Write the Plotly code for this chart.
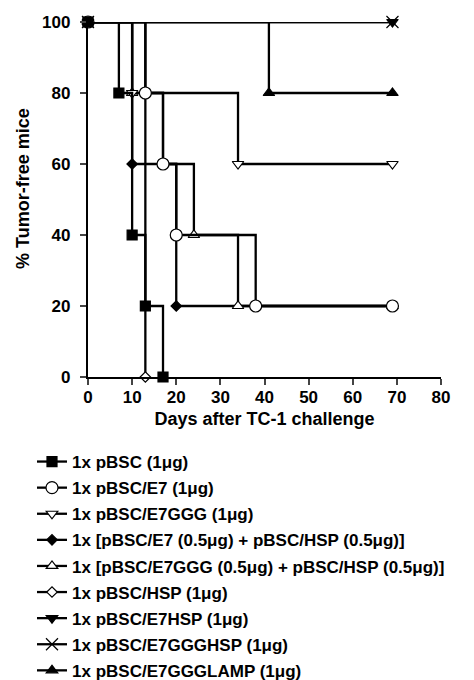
import plotly.graph_objects as go

# ---- data (days, % tumor-free) ----
labels = [
    "1x pBSC (1μg)",
    "1x pBSC/E7 (1μg)",
    "1x pBSC/E7GGG (1μg)",
    "1x [pBSC/E7 (0.5μg) + pBSC/HSP (0.5μg)]",
    "1x [pBSC/E7GGG (0.5μg) + pBSC/HSP (0.5μg)]",
    "1x pBSC/HSP (1μg)",
    "1x pBSC/E7HSP (1μg)",
    "1x pBSC/E7GGGHSP (1μg)",
    "1x pBSC/E7GGGLAMP (1μg)",
]
days_pbsc = [0, 7, 10, 13, 17]
vals_pbsc = [100, 80, 40, 20, 0]
days_e7 = [0, 13, 17, 20, 38, 69]
vals_e7 = [100, 80, 60, 40, 20, 20]
days_e7ggg = [0, 10, 34, 69]
vals_e7ggg = [100, 80, 60, 60]
days_e7_hsp = [0, 10, 20, 69]
vals_e7_hsp = [100, 60, 20, 20]
days_e7ggg_hsp = [0, 10, 17, 24, 34, 69]
vals_e7ggg_hsp = [100, 80, 60, 40, 20, 20]
days_hsp = [0, 13]
vals_hsp = [100, 0]
days_e7hsp = [0, 69]
vals_e7hsp = [100, 100]
days_e7ggghsp = [0, 69]
vals_e7ggghsp = [100, 100]
days_lamp = [0, 41, 69]
vals_lamp = [100, 80, 80]

x_ticks = [0, 10, 20, 30, 40, 50, 60, 70, 80]
y_ticks = [0, 20, 40, 60, 80, 100]
x_title = "Days after TC-1 challenge"
y_title = "% Tumor-free mice"

series = [
    # (label index, x, y, symbol, size, fill)
    (0, days_pbsc, vals_pbsc, "square", 10, "black"),
    (1, days_e7, vals_e7, "circle", 12, "white"),
    (2, days_e7ggg, vals_e7ggg, "triangle-down", 10, "white"),
    (3, days_e7_hsp, vals_e7_hsp, "diamond", 8, "black"),
    (4, days_e7ggg_hsp, vals_e7ggg_hsp, "triangle-up", 10, "white"),
    (5, days_hsp, vals_hsp, "diamond", 8, "white"),
    (6, days_e7hsp, vals_e7hsp, "triangle-down", 10, "black"),
    (7, days_e7ggghsp, vals_e7ggghsp, "x-thin-open", 12, "black"),
    (8, days_lamp, vals_lamp, "triangle-up", 10, "black"),
]
draw_order = [5, 3, 4, 2, 1, 8, 6, 0, 7]

fig = go.Figure()
for k in draw_order:
    idx, xs, ys, sym, sz, fill = series[k]
    fig.add_trace(go.Scatter(
        x=xs, y=ys, mode="lines+markers", name=labels[idx],
        legendrank=idx + 1, legendgroup=f"g{idx}",
        line=dict(color="black", width=2.3, shape="hv"),
        marker=dict(symbol=sym, size=sz, color=fill,
                    line=dict(color="black", width=1.2)),
        cliponaxis=False,
    ))

FAM = "Liberation Sans, Arial, sans-serif"
font = dict(family=FAM, size=17, color="black", weight="bold")

W, H = 466, 672  # page body adds an 8px offset
L, R, T, B = 80, 33, 14, 303
plot_w = W - L - R
plot_h = H - T - B

fig.update_layout(
    width=W, height=H,
    margin=dict(l=L, r=R, t=T, b=B, autoexpand=False),
    paper_bgcolor="white", plot_bgcolor="white",
    font=font,
    showlegend=True,
    legend=dict(
        orientation="v", xref="container", yref="container",
        x=24 / W, y=1 - 436 / H, xanchor="left", yanchor="top",
        font=font,
        tracegroupgap=1, bgcolor="rgba(0,0,0,0)",
    ),
    xaxis=dict(
        range=[0, 80], tickvals=x_ticks, ticks="outside", ticklen=6, tickwidth=1.5,
        ticklabelstandoff=-3,
        showline=True, linecolor="black", linewidth=2.3, showgrid=False, zeroline=False,
        title=dict(text=x_title, standoff=7, font=dict(family=FAM, size=18, color="black", weight="bold")),
    ),
    yaxis=dict(
        range=[0, 100], tickvals=y_ticks, ticks="outside", ticklen=6, tickwidth=1.5,
        ticklabelstandoff=6,
        showline=True, linecolor="black", linewidth=2.3, showgrid=False, zeroline=False,
    ),
    annotations=[dict(
        text=y_title, textangle=-90, xref="paper", yref="paper",
        x=(15 - L) / plot_w, y=1 - (181 - T) / plot_h, xanchor="center", yanchor="middle",
        showarrow=False, font=dict(family=FAM, size=18, color="black", weight="bold"),
    )],
)

fig.write_html("out.html")
